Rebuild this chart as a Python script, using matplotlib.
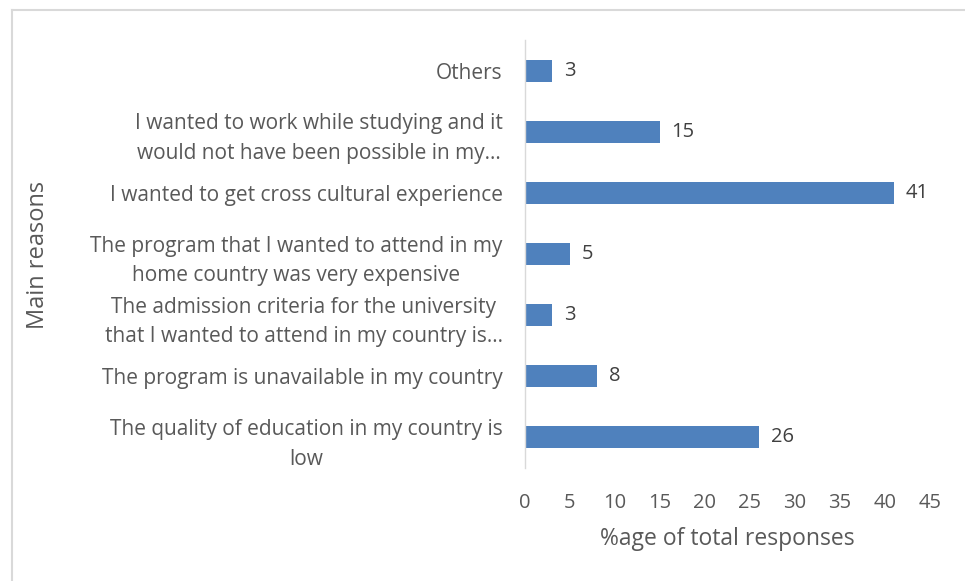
import numpy as np
import matplotlib.pyplot as plt
from matplotlib.lines import Line2D

plt.rcParams['font.family'] = ['Open Sans', 'DejaVu Sans']

# bottom to top, as drawn on the y axis
reasons = [
    "The quality of education in my country is\nlow",
    "The program is unavailable in my country",
    "The admission criteria for the university\nthat I wanted to attend in my country is\u2026",
    "The program that I wanted to attend in my\nhome country was very expensive",
    "I wanted to get cross cultural experience",
    "I wanted to work while studying and it\nwould not have been possible in my\u2026",
    "Others",
]
share = [26, 8, 3, 5, 41, 15, 3]
xticks = [0, 5, 10, 15, 20, 25, 30, 35, 40, 45]

bar_color = "#4f81bd"
text_gray = "#595959"

fig = plt.figure(figsize=(9.65, 5.81), dpi=100)
ax = fig.add_axes([0.544, 0.1945, 0.4197, 0.7366])

y = np.arange(len(reasons))
ax.barh(y, share, height=0.36, color=bar_color)
for yi, v in zip(y, share):
    ax.text(v + 1.3, yi, str(v), va="center", ha="left", fontsize=14.5, color="#404040")

ax.set_xlim(0, 45)
ax.set_ylim(-0.5, len(reasons) - 0.5)
ax.set_xticks(xticks)
ax.set_yticks(y)
ax.set_yticklabels(reasons, multialignment="center", linespacing=1.55)
ax.tick_params(axis="both", length=0, labelsize=14.5, labelcolor=text_gray)
ax.tick_params(axis="y", labelsize=15, pad=16)
ax.tick_params(axis="x", pad=18)

for side in ["top", "right", "bottom"]:
    ax.spines[side].set_visible(False)
ax.spines["left"].set_color("#d9d9d9")
ax.spines["left"].set_linewidth(1)

ax.set_xlabel("%age of total responses", fontsize=16.5, color=text_gray, labelpad=10)
fig.text(0.039, 0.561, "Main reasons", rotation=90, fontsize=17, color=text_gray,
         ha="center", va="center")

# outer frame around the chart area
frame_kw = dict(transform=fig.transFigure, color="#d9d9d9", linewidth=1.5)
fig.add_artist(Line2D([0.0125, 1.0], [0.983, 0.983], **frame_kw))
fig.add_artist(Line2D([0.0125, 0.0125], [0.0, 0.983], **frame_kw))

fig.savefig("out.png", dpi=100)
